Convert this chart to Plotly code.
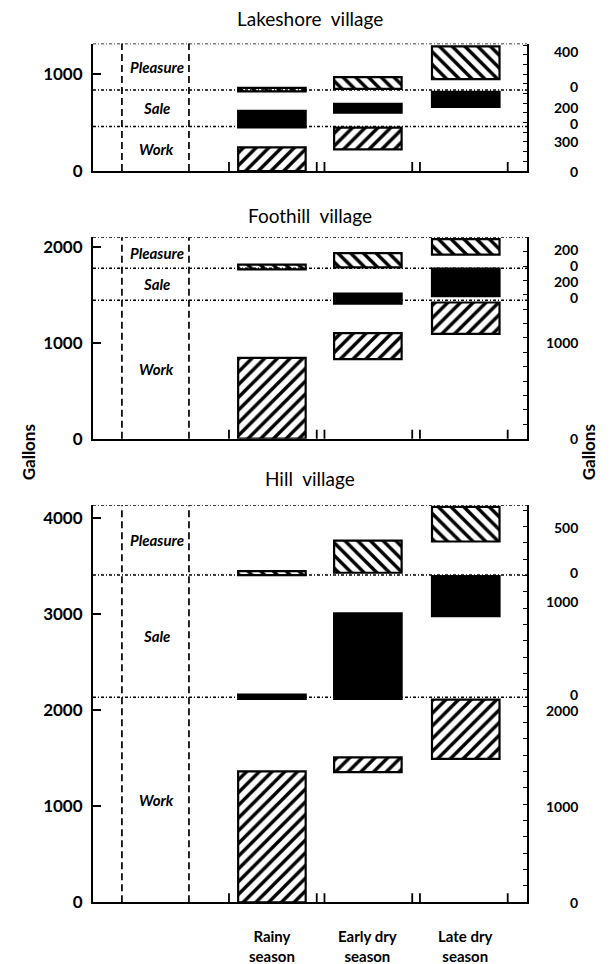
import plotly.graph_objects as go

# ---------------- data (gallons) ----------------
seasons = ["Rainy season", "Early dry season", "Late dry season"]
season_labels = ["Rainy<br>season", "Early dry<br>season", "Late dry<br>season"]
villages = ["Lakeshore  village", "Foothill  village", "Hill  village"]
uses = ["Work", "Sale", "Pleasure"]

# each entry: [low, high] of the floating bar, None = no bar
lakeshore_work = [[0, 245], [224, 449], None]
lakeshore_sale = [[450, 620], [602, 694], [663, 816]]
lakeshore_pleasure = [[822, 858], [847, 969], [949, 1286]]
lakeshore_limits = [459, 837, 1316]          # work|sale, sale|pleasure, top
lakeshore_left_ticks = [0, 1000]
lakeshore_right_ticks = [("Work", 0), ("Work", 300), ("Sale", 0), ("Sale", 200),
                         ("Pleasure", 0), ("Pleasure", 400)]

foothill_work = [[0, 842], [829, 1100], [1093, 1420]]
foothill_sale = [None, [1409, 1512], [1485, 1773]]
foothill_pleasure = [[1765, 1815], [1787, 1935], [1918, 2080]]
foothill_limits = [1443, 1777, 2100]
foothill_left_ticks = [0, 1000, 2000]
foothill_right_ticks = [("Work", 0), ("Work", 1000), ("Sale", 0), ("Sale", 200),
                        ("Pleasure", 0), ("Pleasure", 200)]

hill_work = [[0, 1361], [1354, 1508], [1491, 2108]]
hill_sale = [[2115, 2160], [2115, 3007], [2976, 3393]]
hill_pleasure = [[3404, 3445], [3428, 3763], [3753, 4113]]
hill_limits = [2133, 3404, 4131]
hill_left_ticks = [0, 1000, 2000, 3000, 4000]
hill_right_ticks = [("Work", 0), ("Work", 1000), ("Work", 2000), ("Sale", 0),
                    ("Sale", 1000), ("Pleasure", 0), ("Pleasure", 500)]

# ---------------- layout constants ----------------
W, H = 610, 964
X_LEFT, X_RIGHT = 93, 527              # plot area in px
season_x = [1.855, 2.85, 3.865]        # bar centres (x units)
BAR_W = 0.70
X_RANGE = [0, 4.5]
dash_x = [0.30, 0.995]
label_x = 0.66
break_x = [1.41, 2.32, 2.40, 3.31, 3.39, 4.30]
panels_px = [(43, 172), (239, 442.7), (510, 911.7)]   # top, bottom px
title_y_px = [18, 217, 483]
minor_step = [100, 150, 170]
FONT = "Lato"

panel_data = [
    (lakeshore_work, lakeshore_sale, lakeshore_pleasure, lakeshore_limits,
     lakeshore_left_ticks, lakeshore_right_ticks),
    (foothill_work, foothill_sale, foothill_pleasure, foothill_limits,
     foothill_left_ticks, foothill_right_ticks),
    (hill_work, hill_sale, hill_pleasure, hill_limits,
     hill_left_ticks, hill_right_ticks),
]

styles = {
    "Work": dict(color="white", pattern=dict(shape="/", fgcolor="black", bgcolor="white",
                                             size=9, solidity=0.38, fgopacity=1)),
    "Sale": dict(color="black"),
    "Pleasure": dict(color="white", pattern=dict(shape="\\", fgcolor="black", bgcolor="white",
                                                 size=9, solidity=0.38, fgopacity=1)),
}

fig = go.Figure()
shapes, annotations = [], []
xdom = [X_LEFT / W, X_RIGHT / W]

for i, (work, sale, pleasure, limits, lticks, rticks) in enumerate(panel_data):
    n = i + 1
    xa = "x" if n == 1 else f"x{n}"
    ya = "y" if n == 1 else f"y{n}"
    yr = f"y{n + 3}"
    top_px, bot_px = panels_px[i]
    ydom = [1 - bot_px / H, 1 - top_px / H]
    top = limits[2]
    section_base = {"Work": 0, "Sale": limits[0], "Pleasure": limits[1]}

    for use, series in zip(uses, [work, sale, pleasure]):
        xs = [season_x[k] for k, v in enumerate(series) if v is not None]
        bases = [v[0] for v in series if v is not None]
        hs = [v[1] - v[0] for v in series if v is not None]
        st = styles[use]
        marker = dict(color=st["color"], line=dict(color="black", width=2.2))
        if "pattern" in st:
            marker["pattern"] = st["pattern"]
        fig.add_trace(go.Bar(x=xs, y=hs, base=bases, width=BAR_W, marker=marker,
                             xaxis=xa, yaxis=ya, showlegend=False, name=use,
                             hoverinfo="skip"))
    # invisible trace for right axis
    fig.add_trace(go.Scatter(x=[None], y=[None], xaxis=xa, yaxis=yr,
                             showlegend=False, hoverinfo="skip"))

    xkey = "xaxis" if n == 1 else f"xaxis{n}"
    ykey = "yaxis" if n == 1 else f"yaxis{n}"
    fig.layout[xkey] = dict(domain=xdom, range=X_RANGE, anchor=ya, showline=True,
                            linecolor="black", linewidth=2, ticks="",
                            showticklabels=False, showgrid=False, zeroline=False,
                            fixedrange=True)
    fig.layout[ykey] = dict(domain=ydom, range=[0, top], anchor=xa, showline=True,
                            linecolor="black", linewidth=2, ticks="inside", ticklen=8,
                            tickwidth=1.5, tickcolor="black", tickmode="array",
                            tickvals=lticks, ticktext=[str(t) for t in lticks],
                            tickfont=dict(family=FONT, size=17, color="black",
                                          weight="bold"),
                            ticklabelstandoff=5,
                            showgrid=False, zeroline=False, fixedrange=True)
    fig.layout[f"yaxis{n + 3}"] = dict(overlaying=ya, side="right", anchor=xa,
                                       range=[0, top], showline=True, linecolor="black",
                                       linewidth=2, ticks="inside", ticklen=4,
                                       tickwidth=1.2, tickcolor="black",
                                       tickmode="linear", tick0=0, dtick=minor_step[i],
                                       showticklabels=False, showgrid=False,
                                       zeroline=False, fixedrange=True)

    # horizontal section boundaries + top border (dotted)
    for lim in limits:
        shapes.append(dict(type="line", xref=f"{xa} domain", x0=0, x1=1, yref=ya,
                           y0=lim, y1=lim,
                           line=dict(color="black", width=1.4, dash="3px,2px,1px,2px")))
    # dashed label column
    for dx in dash_x:
        shapes.append(dict(type="line", xref=xa, x0=dx, x1=dx, yref=f"{ya} domain",
                           y0=0, y1=1,
                           line=dict(color="black", width=1.7, dash="7px,4px")))
    # axis break ticks
    for bx in break_x:
        shapes.append(dict(type="line", xref=xa, x0=bx, x1=bx, yref=ya,
                           ysizemode="pixel", yanchor=0, y0=-11, y1=9,
                           line=dict(color="black", width=1.8)))

    # section labels
    bounds = [0, limits[0], limits[1], limits[2]]
    for k, use in enumerate(uses):
        annotations.append(dict(x=label_x, xref=xa, y=(bounds[k] + bounds[k + 1]) / 2,
                                yref=ya, text=f"<i>{use}</i>", showarrow=False,
                                font=dict(family=FONT, size=15, color="black",
                                          weight="bold")))
    # right-hand scale labels
    for sec, val in rticks:
        shift = 3 if (val == 0 and sec != "Work") else 0
        annotations.append(dict(x=580 / W, xref="paper", xanchor="right",
                                y=section_base[sec] + val, yref=ya, yanchor="middle",
                                yshift=shift, text=str(val), showarrow=False,
                                font=dict(family=FONT, size=14, color="black",
                                          weight="bold")))
    # panel title
    annotations.append(dict(x=(X_LEFT + X_RIGHT) / 2 / W, xref="paper",
                            y=1 - title_y_px[i] / H, yref="paper", yanchor="middle",
                            text=villages[i].replace("  ", "&nbsp;&nbsp;"),
                            showarrow=False,
                            font=dict(family=FONT, size=19, color="black")))

# season labels under bottom panel
for sx, lab in zip(season_x, season_labels):
    annotations.append(dict(x=sx, xref="x3", y=1 - 956 / H, yref="paper",
                            yanchor="middle", text=lab, showarrow=False,
                            font=dict(family=FONT, size=15, color="black", weight="bold")))

# Gallons labels
for gx in [16, 601]:
    annotations.append(dict(x=gx / W, xref="paper", y=1 - 457 / H, yref="paper",
                            text="Gallons", textangle=-90, showarrow=False,
                            font=dict(family=FONT, size=17, color="black", weight="bold")))

fig.update_layout(width=W, height=H, margin=dict(l=0, r=0, t=0, b=0),
                  paper_bgcolor="white", plot_bgcolor="white", barmode="overlay",
                  shapes=shapes, annotations=annotations, showlegend=False)

fig.write_html("out.html", config={"displayModeBar": False},
               post_script="document.body.style.margin='0';")
